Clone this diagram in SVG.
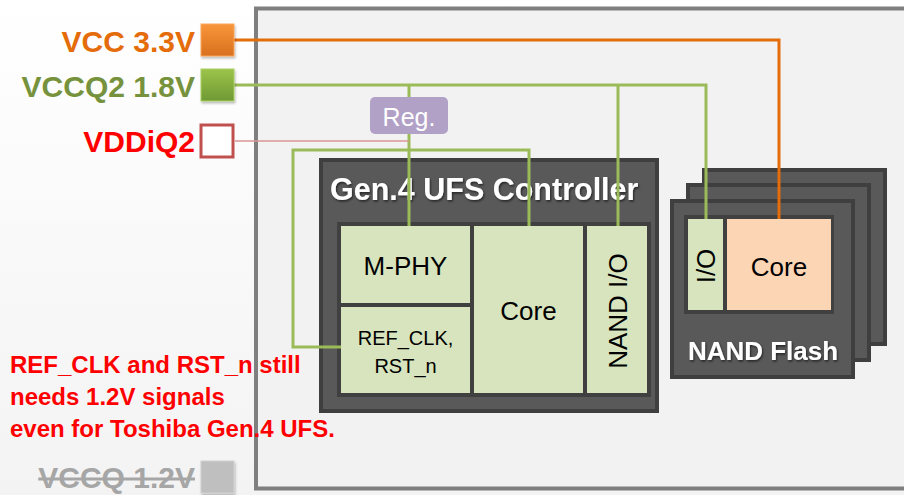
<svg xmlns="http://www.w3.org/2000/svg" width="904" height="495" viewBox="0 0 904 495">
<defs>
<linearGradient id="bg" x1="0" y1="0" x2="0" y2="1"><stop offset="0" stop-color="#ffffff"/><stop offset="1" stop-color="#f3f3f3"/></linearGradient>
<linearGradient id="gOr" x1="0" y1="0" x2="0" y2="1"><stop offset="0" stop-color="#f9963a"/><stop offset="1" stop-color="#d9701e"/></linearGradient>
<linearGradient id="gGr" x1="0" y1="0" x2="0" y2="1"><stop offset="0" stop-color="#9cc34a"/><stop offset="1" stop-color="#6f9a34"/></linearGradient>
<filter id="sh" x="-10%" y="-10%" width="130%" height="140%"><feDropShadow dx="1" dy="1.5" stdDeviation="0.8" flood-color="#000" flood-opacity="0.6"/></filter>
<filter id="bs" x="-20%" y="-20%" width="150%" height="150%"><feDropShadow dx="1" dy="2" stdDeviation="1.2" flood-color="#000" flood-opacity="0.25"/></filter>
</defs>
<style>
text{font-family:"Liberation Sans",Arial,sans-serif}
.lbl{font-weight:bold;font-size:30px;text-anchor:end}
.dark{fill:#595959;stroke:#3f3f3f;stroke-width:4}
.inner{fill:#404040}
.cell{fill:#d7e4bd}
.peach{fill:#fcd5b5}
.ct{font-size:26px;fill:#000;text-anchor:middle}
.title{font-weight:bold;fill:#fff;filter:url(#sh)}
.note{font-weight:bold;font-size:24px;fill:#ff0000}
.gw{fill:none;stroke:#9bbb59;stroke-width:3}
.ow{fill:none;stroke:#e46c0a;stroke-width:3}
</style>
<rect x="0" y="0" width="904" height="495" fill="url(#bg)"/>
<rect id="board" x="256" y="8.5" width="680" height="480" fill="#f2f2f2" stroke="#7f7f7f" stroke-width="4"/>

<g id="controller">
<rect class="dark" x="321" y="160" width="336" height="251"/>
<text class="title" x="330" y="200" font-size="30.5">Gen.4 UFS Controller</text>
<rect class="inner" x="337" y="222" width="314" height="175"/>
<g id="mphy"><rect class="cell" x="341" y="226" width="129" height="77"/><text class="ct" x="405.5" y="275">M-PHY</text></g>
<g id="refclk"><rect class="cell" x="341" y="307" width="129" height="86"/>
<text x="405.5" y="345" font-size="20" text-anchor="middle">REF_CLK,</text>
<text x="405.5" y="373" font-size="20" text-anchor="middle">RST_n</text></g>
<g id="ccore"><rect class="cell" x="474" y="226" width="109" height="167"/><text class="ct" x="528.5" y="320">Core</text></g>
<g id="nandio"><rect class="cell" x="587" y="226" width="60" height="167"/><text class="ct" font-size="27" transform="translate(627,311) rotate(-90)" x="0" y="0">NAND I/O</text></g>
</g>

<g id="nand">
<rect class="dark" x="704" y="170" width="181" height="174"/>
<rect class="dark" x="688" y="185" width="181" height="175"/>
<rect class="dark" x="672" y="201" width="181" height="176"/>
<rect class="inner" x="684" y="215" width="150" height="99"/>
<g id="fio"><rect class="cell" x="688" y="219" width="35" height="91"/><text class="ct" transform="translate(715,266) rotate(-90)" x="0" y="0">I/O</text></g>
<g id="fcore"><rect class="peach" x="727" y="219" width="104" height="91"/><text class="ct" x="779" y="276">Core</text></g>
<text class="title" x="763" y="360" font-size="26" text-anchor="middle">NAND Flash</text>
</g>

<g id="connectors">
<path class="ow" d="M234,40 H779 V219"/>
<path class="gw" d="M234,85 H706 V219"/>
<path class="gw" d="M618,85 V226"/>
<path class="gw" d="M409,85 V97"/>
<path class="gw" d="M409,134 V226"/>
<path class="gw" d="M341,347 H293 V150 H529 V226"/>
<path d="M235,141 H409" fill="none" stroke="#d99694" stroke-width="1.5"/>
</g>

<g id="reg">
<rect x="370" y="97" width="78" height="37" rx="5" fill="#b2a1c7"/>
<text x="409" y="126" font-size="25" fill="#fff" text-anchor="middle">Reg.</text>
</g>

<g id="vcc">
<text class="lbl" x="195" y="52" fill="#e46c0a">VCC 3.3V</text>
<rect x="201" y="24" width="33" height="32" fill="url(#gOr)" stroke="#f8a75f" stroke-width="1" filter="url(#bs)"/>
</g>
<g id="vccq2">
<text class="lbl" x="195" y="97" fill="#76923c">VCCQ2 1.8V</text>
<rect x="201" y="69" width="33" height="32" fill="url(#gGr)" stroke="#a9cf64" stroke-width="1" filter="url(#bs)"/>
</g>
<g id="vddiq2">
<text class="lbl" x="195" y="152" fill="#ff0000">VDDiQ2</text>
<rect x="201" y="125" width="32" height="32" fill="#ffffff" stroke="#c0504d" stroke-width="3"/>
</g>
<g id="vccq">
<text class="lbl" x="195" y="488" fill="#a6a6a6" text-decoration="line-through">VCCQ 1.2V</text>
<rect x="201" y="461" width="33" height="32" fill="#bfbfbf" stroke="#d0d0d0" stroke-width="1" filter="url(#bs)"/>
</g>

<g id="note">
<text class="note" x="10" y="373">REF_CLK and RST_n still</text>
<text class="note" x="10" y="405">needs 1.2V signals</text>
<text class="note" x="10" y="437">even for Toshiba Gen.4 UFS.</text>
</g>
</svg>
